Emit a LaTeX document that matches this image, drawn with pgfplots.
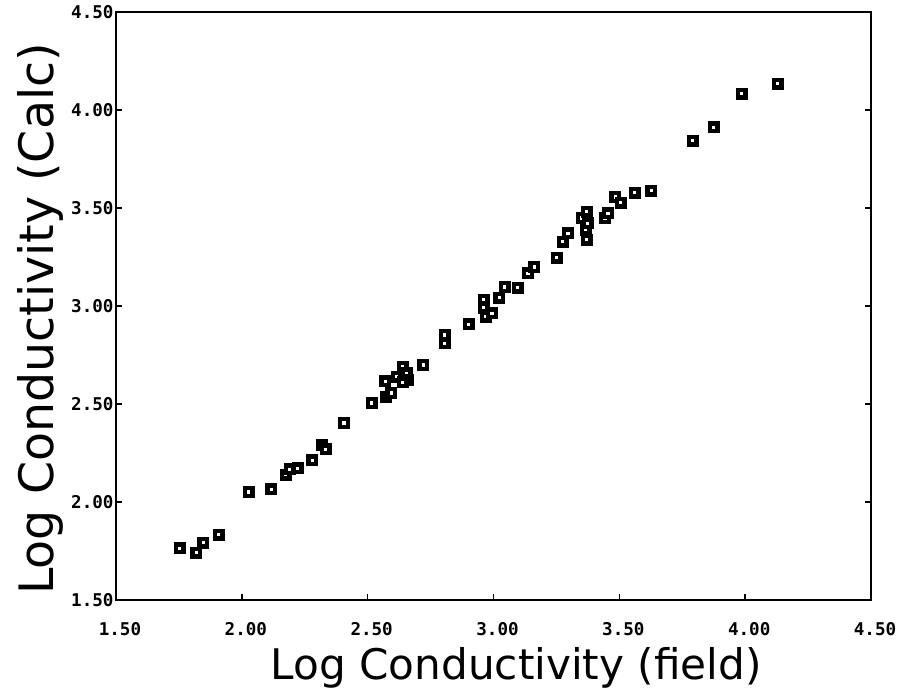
\documentclass[border=0pt]{standalone}
\usepackage{fontspec}
\setmainfont{DejaVu Sans}
\newfontfamily\tickfont{DejaVu Sans Mono}
\usepackage{pgfplots}
\pgfplotsset{compat=1.18}
\begin{document}
\begin{tikzpicture}[x=0.3mm,y=0.3mm]
\path[use as bounding box] (-116,-98) rectangle (795,600);
\begin{axis}[
  at={(0,0)}, anchor=south west,
  scale only axis, width=226.5mm, height=176.4mm,
  xmin=1.5, xmax=4.5, ymin=1.5, ymax=4.5,
  xtick={1.5,2,2.5,3,3.5,4,4.5},
  ytick={1.5,2,2.5,3,3.5,4,4.5},
  xticklabels={1.50,2.00,2.50,3.00,3.50,4.00,4.50},
  yticklabels={1.50,2.00,2.50,3.00,3.50,4.00,4.50},
  xtick pos=bottom, ytick pos=both,
  tick align=inside, major tick length=1.8mm,
  tick style={line width=1.2pt, black},
  axis line style={line width=1.8pt},
  ticklabel style={font=\tickfont\bfseries\fontsize{15}{18}\selectfont},
  xticklabel style={yshift=-5.5mm, xshift=1.2mm},
  yticklabel style={xshift=0.5mm},
  xlabel={Log Conductivity (field)},
  ylabel={Log Conductivity (Calc)},
  xlabel style={at={(axis description cs:0.530,-0.1156)}, anchor=center, font=\fontsize{36}{40}\selectfont},
  ylabel style={at={(axis description cs:-0.100,0.478)}, anchor=center, rotate=0, font=\fontsize{40.5}{44}\selectfont},
]
\addplot[only marks, mark=square*, mark size=3.1pt,
  mark options={draw=black, fill=white, line width=3.6pt}] coordinates {
(1.754,1.765) (1.818,1.740) (1.846,1.791) (1.909,1.832) (2.028,2.051)
(2.116,2.066) (2.175,2.138) (2.191,2.168) (2.223,2.173) (2.279,2.214)
(2.318,2.291) (2.334,2.270) (2.406,2.403) (2.517,2.505) (2.573,2.536)
(2.593,2.556) (2.569,2.617) (2.616,2.638) (2.640,2.689) (2.656,2.658)
(2.660,2.622) (2.640,2.612) (2.720,2.699) (2.807,2.852) (2.807,2.811)
(2.902,2.908) (2.962,3.031) (2.962,2.990) (2.970,2.944) (2.994,2.964)
(3.022,3.041) (3.045,3.097) (3.097,3.092) (3.137,3.168) (3.161,3.199)
(3.252,3.245) (3.276,3.327) (3.296,3.372) (3.351,3.449) (3.371,3.480)
(3.367,3.388) (3.371,3.337) (3.375,3.423) (3.443,3.449) (3.455,3.474)
(3.483,3.556) (3.506,3.526) (3.562,3.577) (3.626,3.587) (3.792,3.842)
(3.876,3.913) (3.987,4.082) (4.130,4.133)
};
\end{axis}
\end{tikzpicture}
\end{document}
